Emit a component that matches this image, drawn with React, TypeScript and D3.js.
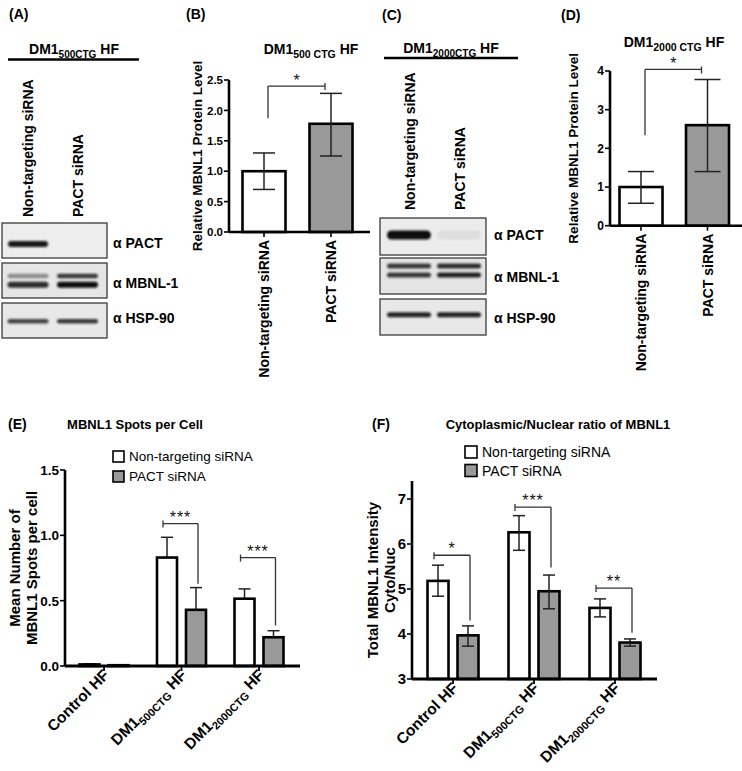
import React from "react";
import * as d3 from "d3";

const FONT = "'Liberation Sans', Arial, Helvetica, sans-serif";

// ---------- Panels B & D (western blot quantification) ----------
const lanes = ["Non-targeting siRNA", "PACT siRNA"];

const bMeans = [1.0, 1.78];
const bLow = [0.7, 1.25];
const bHigh = [1.3, 2.28];
const bTicks = [0, 0.5, 1.0, 1.5, 2.0, 2.5];
const bSigLevel = 2.4;
const bSigDrop = 1.87;

const dMeans = [1.0, 2.6];
const dLow = [0.58, 1.4];
const dHigh = [1.4, 3.78];
const dTicks = [0, 1, 2, 3, 4];
const dSigLevel = 4.04;
const dSigDrop = 2.34;

// ---------- Panels E & F ----------
const groups = ["Control HF", "DM1_500CTG HF", "DM1_2000CTG HF"];
const series = ["Non-targeting siRNA", "PACT siRNA"];

const eNon = [0.012, 0.83, 0.515];
const eNonErr = [0.016, 0.985, 0.59];
const ePact = [0.006, 0.43, 0.22];
const ePactErr = [0.008, 0.6, 0.27];
const eTicks = [0, 0.5, 1.0, 1.5];
const eSigGroups = [1, 2];
const eSigLabels = ["***", "***"];
const eSigLevels = [1.09, 0.83];
const eSigDrops = [0.63, 0.31];

const fNon = [5.18, 6.26, 4.58];
const fNonLow = [4.84, 5.86, 4.38];
const fNonHigh = [5.53, 6.63, 4.78];
const fPact = [3.97, 4.95, 3.81];
const fPactLow = [3.73, 4.56, 3.73];
const fPactHigh = [4.18, 5.31, 3.89];
const fTicks = [3, 4, 5, 6, 7];
const fSigGroups = [0, 1, 2];
const fSigLabels = ["*", "***", "**"];
const fSigLevels = [5.75, 6.82, 5.02];
const fSigDrops = [4.3, 5.48, 4.03];

// ---------- Blot band intensities (lane 1, lane 2) ----------
const blotRows = ["α PACT", "α MBNL-1", "α HSP-90"];
const aPact = [0.95, 0];
const aMbnlUpper = [0.4, 0.8];
const aMbnlLower = [0.85, 1.0];
const aHsp = [0.75, 0.8];
const cPact = [1.0, 0.06];
const cMbnlUpper = [0.8, 0.85];
const cMbnlLower = [0.8, 0.9];
const cHsp = [0.9, 0.9];

const AX = "#000";

function Sub({ main, sub, rest, subSize }: { main: string; sub: string; rest: string; subSize: number }) {
  return (
    <>
      {main}
      <tspan fontSize={subSize} dy={4}>{sub}</tspan>
      <tspan dy={-4}>{rest}</tspan>
    </>
  );
}

function groupLabel(name: string, subSize: number) {
  if (name.includes("_")) {
    const [m, r] = name.split("_");
    const sp = r.indexOf(" ");
    return <Sub main={m} sub={r.slice(0, sp)} rest={r.slice(sp)} subSize={subSize} />;
  }
  return name;
}

function YAxis({ x, y, ticks, top, fmt, size, bottom }: any) {
  return (
    <g>
      <line x1={x} x2={x} y1={bottom} y2={top} stroke={AX} strokeWidth={2.6} />
      {ticks.map((t: number) => (
        <g key={t}>
          <line x1={x - 5} x2={x} y1={y(t)} y2={y(t)} stroke={AX} strokeWidth={1.6} />
          <text x={x - 6} y={y(t)} dy="0.36em" textAnchor="end" fontSize={size} fontWeight="bold">
            {fmt(t)}
          </text>
        </g>
      ))}
    </g>
  );
}

function Blot({ x0, x1, y0, y1, lx, bw, bands, fillTone }: any) {
  const h = y1 - y0;
  return (
    <g>
      <rect x={x0} y={y0} width={x1 - x0} height={h} fill={fillTone} stroke="#3a3a3a" strokeWidth={1.3} />
      {bands.map((b: any, bi: number) =>
        b.vals.map((v: number, li: number) =>
          v > 0 ? (
            <rect
              key={bi + "-" + li}
              x={lx(lanes[li]) - bw / 2}
              y={y0 + b.f * h - b.h / 2}
              width={bw}
              height={b.h}
              rx={b.h / 2}
              fill="#111"
              opacity={v}
              filter="url(#blur)"
            />
          ) : null
        )
      )}
    </g>
  );
}

export default function App() {
  // ---- B scales
  const bx = d3.scalePoint<string>().domain(lanes).range([264, 331]);
  const by = d3.scaleLinear().domain([0, 2.5]).range([232, 80]);
  // ---- D scales
  const dx = d3.scalePoint<string>().domain(lanes).range([641, 707.5]);
  const dy = d3.scaleLinear().domain([0, 4]).range([225.7, 71]);
  // ---- E scales
  const ex = d3.scalePoint<string>().domain(groups).range([104, 259]);
  const ey = d3.scaleLinear().domain([0, 1.5]).range([666, 470]);
  // ---- F scales
  const fx = d3.scalePoint<string>().domain(groups).range([453, 615]);
  const fy = d3.scaleLinear().domain([3, 7]).range([679, 499]);
  // ---- blot lane scales
  const alx = d3.scalePoint<string>().domain(lanes).range([28, 77.5]);
  const clx = d3.scalePoint<string>().domain(lanes).range([409, 459]);

  const twoBar = (
    xs: any, ys: any, means: number[], lo: number[], hi: number[], bw: number, cap: number,
    axisX: number, axisEnd: number, sigLevel: number, sigDrop: number
  ) => (
    <g>
      {means.map((m, i) => {
        const cx = xs(lanes[i]);
        return (
          <g key={i}>
            <rect x={cx - bw / 2} y={ys(m)} width={bw} height={ys(0) - ys(m)} fill={i === 0 ? "#fff" : "#999"} stroke="#000" strokeWidth={2.6} />
            <line x1={cx} x2={cx} y1={ys(lo[i])} y2={ys(hi[i])} stroke="#222" strokeWidth={1.5} />
            <line x1={cx - cap / 2} x2={cx + cap / 2} y1={ys(lo[i])} y2={ys(lo[i])} stroke="#222" strokeWidth={1.5} />
            <line x1={cx - cap / 2} x2={cx + cap / 2} y1={ys(hi[i])} y2={ys(hi[i])} stroke="#222" strokeWidth={1.5} />
            <line x1={cx} x2={cx} y1={ys(0)} y2={ys(0) + 5} stroke="#000" strokeWidth={1.6} />
            <text transform={`translate(${cx + 5},${ys(0) + 8}) rotate(-90)`} textAnchor="end" fontSize={14} fontWeight="bold">
              {lanes[i]}
            </text>
          </g>
        );
      })}
      <line x1={axisX} x2={axisEnd} y1={ys(0)} y2={ys(0)} stroke={AX} strokeWidth={2.6} />
      {(() => {
        const l = xs(lanes[0]) + 4;
        const r = xs(lanes[1]) - 6;
        const yy = ys(sigLevel);
        return (
          <g stroke="#333" strokeWidth={1.3}>
            <line x1={l} x2={r} y1={yy} y2={yy} />
            <line x1={l} x2={l} y1={yy} y2={ys(sigDrop)} />
            <line x1={r} x2={r} y1={yy - 3} y2={yy + 4} />
            <text x={(l + r) / 2} y={yy} dy={0} textAnchor="middle" fontSize={16} stroke="none" fill="#111">*</text>
          </g>
        );
      })()}
    </g>
  );

  const groupedBars = (
    xs: any, ys: any, a: number[], b: number[], aLo: number[] | null, aHi: number[], bLo: number[] | null, bHi: number[],
    off: number, bw: number, cap: number, sigG: number[], sigL: string[], sigY: number[], sigD: number[], base: number
  ) => (
    <g>
      {groups.map((g, i) => {
        const cx = xs(g);
        const cols = [
          { v: a[i], lo: aLo ? aLo[i] : a[i], hi: aHi[i], fill: "#fff", x: cx - off },
          { v: b[i], lo: bLo ? bLo[i] : b[i], hi: bHi[i], fill: "#999", x: cx + off },
        ];
        return (
          <g key={g}>
            {cols.map((c, k) => (
              <g key={k}>
                <line x1={c.x} x2={c.x} y1={ys(c.lo)} y2={ys(c.hi)} stroke="#222" strokeWidth={1.5} />
                <line x1={c.x - cap / 2} x2={c.x + cap / 2} y1={ys(c.hi)} y2={ys(c.hi)} stroke="#222" strokeWidth={1.5} />
                <rect x={c.x - bw / 2} y={ys(c.v)} width={bw} height={ys(base) - ys(c.v)} fill={c.fill} stroke="#000" strokeWidth={2.6} />
                {aLo ? <line x1={c.x} x2={c.x} y1={ys(c.lo)} y2={ys(c.v)} stroke="#222" strokeWidth={1.5} /> : null}
                {aLo ? <line x1={c.x - cap / 2} x2={c.x + cap / 2} y1={ys(c.lo)} y2={ys(c.lo)} stroke="#222" strokeWidth={1.5} /> : null}
              </g>
            ))}
            <line x1={cx} x2={cx} y1={ys(base)} y2={ys(base) + 5} stroke="#000" strokeWidth={1.8} />
            <text transform={`translate(${cx + 6},${ys(base) + 10}) rotate(-45)`} textAnchor="end" fontSize={15.5} fontWeight="bold">
              {groupLabel(g, 11)}
            </text>
          </g>
        );
      })}
      {sigG.map((gi, k) => {
        const cx = xs(groups[gi]);
        const l = cx - off - 4;
        const r = cx + off + 2;
        const yy = ys(sigY[k]);
        return (
          <g key={k} stroke="#333" strokeWidth={1.3}>
            <line x1={l} x2={r} y1={yy} y2={yy} />
            <line x1={l} x2={l} y1={yy - 3} y2={yy + 4} />
            <line x1={r} x2={r} y1={yy} y2={ys(sigD[k])} />
            <text x={(l + r) / 2} y={yy - 1} textAnchor="middle" fontSize={16} letterSpacing={1} stroke="none" fill="#111">
              {sigL[k]}
            </text>
          </g>
        );
      })}
    </g>
  );

  return (
    <svg width={742} height={771} style={{ position: "absolute", left: 0, top: 0, background: "#fff" }} fontFamily={FONT}>
      <defs>
        <filter id="blur" x="-20%" y="-100%" width="140%" height="300%">
          <feGaussianBlur stdDeviation="0.9" />
        </filter>
      </defs>
      <rect width={742} height={771} fill="#fff" />

      {/* ================= Panel A ================= */}
      <text x={9} y={19} fontSize={14} fontWeight="bold">(A)</text>
      <text x={74} y={54} textAnchor="middle" fontSize={14} fontWeight="bold">
        <Sub main="DM1" sub="500CTG" rest=" HF" subSize={10} />
      </text>
      <line x1={8} x2={139} y1={59.5} y2={59.5} stroke="#000" strokeWidth={2.6} />
      {lanes.map((l) => (
        <text key={l} transform={`translate(${alx(l)! + 5},217) rotate(-90)`} fontSize={14} fontWeight="bold">{l}</text>
      ))}
      <Blot x0={2} x1={107} y0={223} y1={258} lx={alx} bw={40} fillTone="#ededed" bands={[{ vals: aPact, f: 0.6, h: 6 }]} />
      <Blot x0={2} x1={107} y0={263} y1={298} lx={alx} bw={41} fillTone="#e6e6e6" bands={[{ vals: aMbnlUpper, f: 0.37, h: 4.5 }, { vals: aMbnlLower, f: 0.62, h: 6 }]} />
      <Blot x0={2} x1={107} y0={303} y1={338} lx={alx} bw={41} fillTone="#e8e8e8" bands={[{ vals: aHsp, f: 0.52, h: 4.5 }]} />
      {blotRows.map((r, i) => (
        <text key={r} x={113} y={[248, 288, 323][i]} fontSize={14} fontWeight="bold">{r}</text>
      ))}

      {/* ================= Panel B ================= */}
      <text x={186} y={19} fontSize={14} fontWeight="bold">(B)</text>
      <text x={311} y={54} textAnchor="middle" fontSize={14} fontWeight="bold">
        <Sub main="DM1" sub="500 CTG" rest=" HF" subSize={10.5} />
      </text>
      <text transform={`translate(202,${(by(0) + by(2.5)) / 2}) rotate(-90)`} textAnchor="middle" fontSize={13.5} fontWeight="bold">
        Relative MBNL1 Protein Level
      </text>
      <YAxis x={229} y={by} ticks={bTicks} top={by(2.5)} bottom={by(0)} fmt={d3.format(".1f")} size={11.5} />
      {twoBar(bx, by, bMeans, bLow, bHigh, 43, 22, 229, 370, bSigLevel, bSigDrop)}

      {/* ================= Panel C ================= */}
      <text x={382} y={20} fontSize={14} fontWeight="bold">(C)</text>
      <text x={451} y={53} textAnchor="middle" fontSize={14} fontWeight="bold">
        <Sub main="DM1" sub="2000CTG" rest=" HF" subSize={10} />
      </text>
      <line x1={384} x2={518} y1={58} y2={58} stroke="#000" strokeWidth={2.6} />
      {lanes.map((l) => (
        <text key={l} transform={`translate(${clx(l)! + 6},210) rotate(-90)`} fontSize={14} fontWeight="bold">{l}</text>
      ))}
      <Blot x0={380} x1={486} y0={218} y1={255} lx={clx} bw={44} fillTone="#ececec" bands={[{ vals: cPact, f: 0.46, h: 9 }]} />
      <Blot x0={380} x1={486} y0={258} y1={294} lx={clx} bw={44} fillTone="#e4e4e4" bands={[{ vals: cMbnlUpper, f: 0.22, h: 5 }, { vals: cMbnlLower, f: 0.47, h: 5 }]} />
      <Blot x0={380} x1={486} y0={299} y1={335} lx={clx} bw={44} fillTone="#e8e8e8" bands={[{ vals: cHsp, f: 0.44, h: 5 }]} />
      {blotRows.map((r, i) => (
        <text key={r} x={494} y={[240, 282, 323][i]} fontSize={14} fontWeight="bold">{r}</text>
      ))}

      {/* ================= Panel D ================= */}
      <text x={561} y={20} fontSize={14} fontWeight="bold">(D)</text>
      <text x={674} y={47} textAnchor="middle" fontSize={14} fontWeight="bold">
        <Sub main="DM1" sub="2000 CTG" rest=" HF" subSize={10.5} />
      </text>
      <text transform={`translate(578,${(dy(0) + dy(4)) / 2}) rotate(-90)`} textAnchor="middle" fontSize={13.5} fontWeight="bold">
        Relative MBNL1 Protein Level
      </text>
      <YAxis x={610} y={dy} ticks={dTicks} top={dy(4)} bottom={dy(0)} fmt={d3.format("d")} size={12} />
      {twoBar(dx, dy, dMeans, dLow, dHigh, 43, 26, 610, 742, dSigLevel, dSigDrop)}

      {/* ================= Panel E ================= */}
      <text x={8} y={429} fontSize={14} fontWeight="bold">(E)</text>
      <text x={135} y={429} textAnchor="middle" fontSize={13} fontWeight="bold">MBNL1 Spots per Cell</text>
      {series.map((s, i) => (
        <g key={s}>
          <rect x={113} y={451 + i * 20} width={11} height={11} fill={i === 0 ? "#fff" : "#999"} stroke="#000" strokeWidth={1.6} />
          <text x={129} y={461 + i * 20} fontSize={13.5}>{s}</text>
        </g>
      ))}
      <text transform={`translate(20,${(ey(0) + ey(1.5)) / 2}) rotate(-90)`} textAnchor="middle" fontSize={15} fontWeight="bold">
        <tspan x={0} dy={0}>Mean Number of</tspan>
        <tspan x={0} dy={17}>MBNL1 Spots per cell</tspan>
      </text>
      <YAxis x={65} y={ey} ticks={eTicks} top={ey(1.5)} bottom={ey(0)} fmt={d3.format(".1f")} size={13.5} />
      {groupedBars(ex, ey, eNon, ePact, null, eNonErr, null, ePactErr, 14.5, 20, 12, eSigGroups, eSigLabels, eSigLevels, eSigDrops, 0)}
      <line x1={65} x2={300} y1={ey(0)} y2={ey(0)} stroke={AX} strokeWidth={2.8} />

      {/* ================= Panel F ================= */}
      <text x={372} y={429} fontSize={14} fontWeight="bold">(F)</text>
      <text x={558} y={429} textAnchor="middle" fontSize={13} fontWeight="bold">Cytoplasmic/Nuclear ratio of MBNL1</text>
      {series.map((s, i) => (
        <g key={s}>
          <rect x={465} y={446 + i * 18.5} width={12} height={12} fill={i === 0 ? "#fff" : "#999"} stroke="#000" strokeWidth={1.6} />
          <text x={482} y={457 + i * 18.5} fontSize={14}>{s}</text>
        </g>
      ))}
      <text transform={`translate(378,${(fy(3) + fy(7.4)) / 2}) rotate(-90)`} textAnchor="middle" fontSize={15} fontWeight="bold">
        <tspan x={0} dy={0}>Total MBNL1 Intensity</tspan>
        <tspan x={0} dy={17}>Cyto/Nuc</tspan>
      </text>
      <YAxis x={412} y={fy} ticks={fTicks} top={fy(7.4)} bottom={fy(3)} fmt={d3.format("d")} size={15} />
      {groupedBars(fx, fy, fNon, fPact, fNonLow, fNonHigh, fPactLow, fPactHigh, 15, 21, 12, fSigGroups, fSigLabels, fSigLevels, fSigDrops, 3)}
      <line x1={412} x2={657} y1={fy(3)} y2={fy(3)} stroke={AX} strokeWidth={2.8} />
    </svg>
  );
}
